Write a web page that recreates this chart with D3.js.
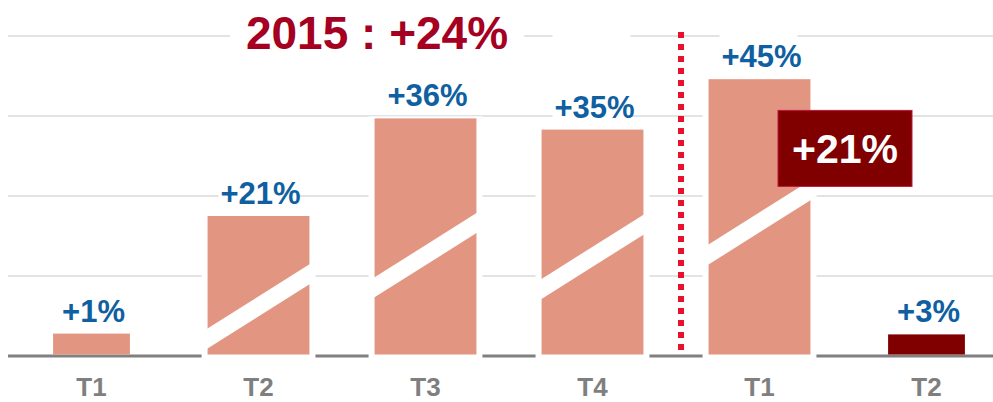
<!DOCTYPE html>
<html>
<head>
<meta charset="utf-8">
<script src="https://cdn.jsdelivr.net/npm/d3@7"></script>
<style>
  body { margin: 0; background: #fff; }
  svg { display: block; font-family: "Liberation Sans", Arial, sans-serif; font-weight: bold; }
</style>
</head>
<body>
<svg id="chart" width="993" height="402"></svg>
<script>
// quarters, two years
const categories = ["T1", "T2", "T3", "T4", "T1", "T2"];
const years = ["2015", "2015", "2015", "2015", "2016", "2016"];
// bar heights, in gridline units (axis is cut on the tall bars)
const barHeights = [0.28, 1.75, 2.97, 2.83, 3.46, 0.27];
const growthLabels = ["+1%", "+21%", "+36%", "+35%", "+45%", "+3%"];
// where the diagonal axis break sits on each bar (null = no break)
const breakLevels = [null, 0.62, 1.26, 1.24, 1.67, null];
const highlighted = [false, false, false, false, false, true];
const yearTotals = ["+24%", "+21%"];
const gridTicks = [1, 2, 3, 4];

const svg = d3.select("#chart");
const width = 993;

const x = d3.scaleBand()
  .domain(d3.range(categories.length))
  .range([8, 1010])
  .padding(0);

const y = d3.scaleLinear()
  .domain([0, 4])
  .range([356, 36]);

const salmon = "#e29682",
      darkRed = "#800000",
      blue = "#0f5fa1",
      gray = "#7f7f7f";

const idx = d3.range(categories.length);
const barW = i => x.bandwidth() * (breakLevels[i] == null ? 0.46 : 0.61);
const cx = i => x(i) + x.bandwidth() / 2;

// gridlines
svg.append("g")
  .selectAll("line")
  .data(gridTicks)
  .join("line")
  .attr("x1", 8).attr("x2", width)
  .attr("y1", d => y(d)).attr("y2", d => y(d))
  .attr("stroke", "#e3e3e3")
  .attr("stroke-width", 2);

// baseline
svg.append("line")
  .attr("x1", 8).attr("x2", width)
  .attr("y1", y(0)).attr("y2", y(0))
  .attr("stroke", "#808080")
  .attr("stroke-width", 3);

// white boxes behind the labels of the tall bars
const labelY = i => y(barHeights[i]) - 12;
svg.append("g")
  .selectAll("rect")
  .data(idx.filter(i => breakLevels[i] != null))
  .join("rect")
  .attr("x", i => cx(i) - 40)
  .attr("y", i => labelY(i) - 85)
  .attr("width", 78)
  .attr("height", 88)
  .attr("fill", "#fff");

// title box + title
const titleX = x(2) + 35;
svg.append("rect")
  .attr("x", titleX - 147).attr("y", 5)
  .attr("width", 294).attr("height", 50)
  .attr("fill", "#fff");
svg.append("text")
  .attr("x", titleX).attr("y", 49)
  .attr("text-anchor", "middle")
  .attr("font-size", 46)
  .attr("fill", "#a50021")
  .text(years[0] + " : " + yearTotals[0]);

// bars
const bars = svg.append("g");

// white halo for the cut bars
bars.selectAll(".halo")
  .data(idx.filter(i => breakLevels[i] != null))
  .join("rect")
  .attr("class", "halo")
  .attr("x", i => cx(i) - barW(i) / 2 - 6)
  .attr("y", i => y(barHeights[i]) - 2)
  .attr("width", i => barW(i) + 12)
  .attr("height", i => y(0) - y(barHeights[i]) + 5)
  .attr("fill", "#fff");

bars.selectAll(".bar")
  .data(idx)
  .join("rect")
  .attr("class", "bar")
  .attr("x", i => cx(i) - barW(i) / 2)
  .attr("y", i => y(barHeights[i]))
  .attr("width", i => barW(i))
  .attr("height", i => y(0) - 1.5 - y(barHeights[i]))
  .attr("fill", i => highlighted[i] ? darkRed : salmon);

// diagonal break stripes
const slope = 0.63, half = 10;
bars.selectAll(".cut")
  .data(idx.filter(i => breakLevels[i] != null))
  .join("path")
  .attr("class", "cut")
  .attr("d", i => {
    const x0 = cx(i) - barW(i) / 2 - 6, x1 = cx(i) + barW(i) / 2 + 6;
    const yc = xx => y(breakLevels[i]) - slope * (xx - cx(i));
    return `M${x0},${yc(x0) - half}L${x1},${yc(x1) - half}L${x1},${yc(x1) + half}L${x0},${yc(x0) + half}Z`;
  })
  .attr("fill", "#fff");

// growth labels
svg.append("g")
  .selectAll("text")
  .data(idx)
  .join("text")
  .attr("x", i => cx(i) + 2)
  .attr("y", i => labelY(i))
  .attr("text-anchor", "middle")
  .attr("font-size", 31)
  .attr("fill", blue)
  .text(i => growthLabels[i]);

// category labels
svg.append("g")
  .selectAll("text")
  .data(idx)
  .join("text")
  .attr("x", i => cx(i))
  .attr("y", 396)
  .attr("text-anchor", "middle")
  .attr("font-size", 26)
  .attr("fill", gray)
  .text(i => categories[i]);

// year divider
const split = years.indexOf("2016");
const divX = x(split) + 5;
svg.append("line")
  .attr("x1", divX).attr("x2", divX)
  .attr("y1", y(4) - 4).attr("y2", y(0) - 2)
  .attr("stroke", "#e8112d")
  .attr("stroke-width", 6)
  .attr("stroke-dasharray", "6 6");

// 2016 callout
const boxCx = x(split) + x.step() + 2,
      boxCy = y(barHeights[split] * 0.75);
svg.append("rect")
  .attr("x", boxCx - 67).attr("y", boxCy - 38)
  .attr("width", 134).attr("height", 76)
  .attr("fill", darkRed)
  .attr("stroke", "#c0143c")
  .attr("stroke-width", 1);
svg.append("text")
  .attr("x", boxCx).attr("y", boxCy + 15)
  .attr("text-anchor", "middle")
  .attr("font-size", 41)
  .attr("fill", "#fff")
  .text(yearTotals[1]);
</script>
</body>
</html>
